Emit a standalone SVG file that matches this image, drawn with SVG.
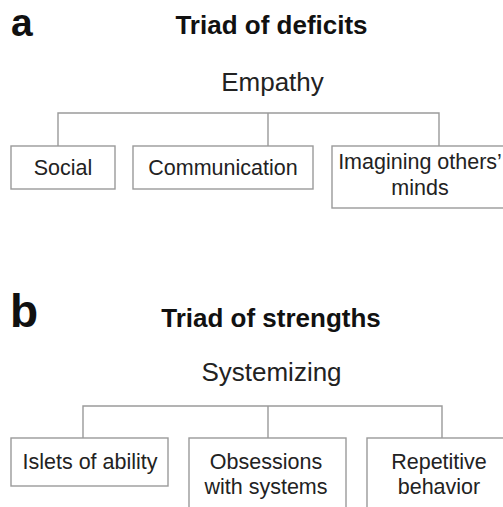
<svg xmlns="http://www.w3.org/2000/svg" width="503" height="507" viewBox="0 0 503 507">
<style>
.lbl{font-family:"Liberation Sans",Arial,sans-serif;font-size:46px;font-weight:bold;fill:#111}
.ttl{font-family:"Liberation Sans",Arial,sans-serif;font-size:26px;font-weight:bold;fill:#111;text-anchor:middle}
.root{font-family:"Liberation Sans",Arial,sans-serif;font-size:26px;fill:#222;text-anchor:middle}
.t{font-family:"Liberation Sans",Arial,sans-serif;font-size:21.5px;fill:#222;text-anchor:middle}
.box{fill:#fff;stroke:#9a9a9a;stroke-width:1.4}
.con{fill:none;stroke:#9a9a9a;stroke-width:1.4}
</style>
<rect width="503" height="507" fill="#fff"/>
<text class="lbl" x="11" y="36" style="font-size:39px">a</text>
<text class="ttl" x="271.5" y="34">Triad of deficits</text>
<text class="lbl" x="10" y="327">b</text>
<text class="ttl" x="271" y="327">Triad of strengths</text>
<g id="connectors">
<path class="con" d="M58 146V113H439V146M268 113V146"/>
<path class="con" d="M83 438V406H442V438M268 406V438"/>
</g>
<g id="empathy"><text class="root" x="272.5" y="91">Empathy</text></g>
<g id="social"><rect class="box" x="11" y="146" width="104" height="43"/><text class="t" x="63" y="175">Social</text></g>
<g id="communication"><rect class="box" x="133" y="146" width="180" height="43"/><text class="t" x="223" y="175">Communication</text></g>
<g id="imagining"><rect class="box" x="332" y="146" width="180" height="62"/><text class="t" x="420" y="169">Imagining others’</text><text class="t" x="420" y="195">minds</text></g>
<g id="systemizing"><text class="root" x="271.5" y="381">Systemizing</text></g>
<g id="islets"><rect class="box" x="11" y="438" width="157" height="48"/><text class="t" x="90" y="469">Islets of ability</text></g>
<g id="obsessions"><rect class="box" x="189" y="438" width="157" height="80"/><text class="t" x="266" y="469">Obsessions</text><text class="t" x="266" y="494">with systems</text></g>
<g id="repetitive"><rect class="box" x="367" y="438" width="150" height="80"/><text class="t" x="439" y="469">Repetitive</text><text class="t" x="439" y="494">behavior</text></g>
</svg>
